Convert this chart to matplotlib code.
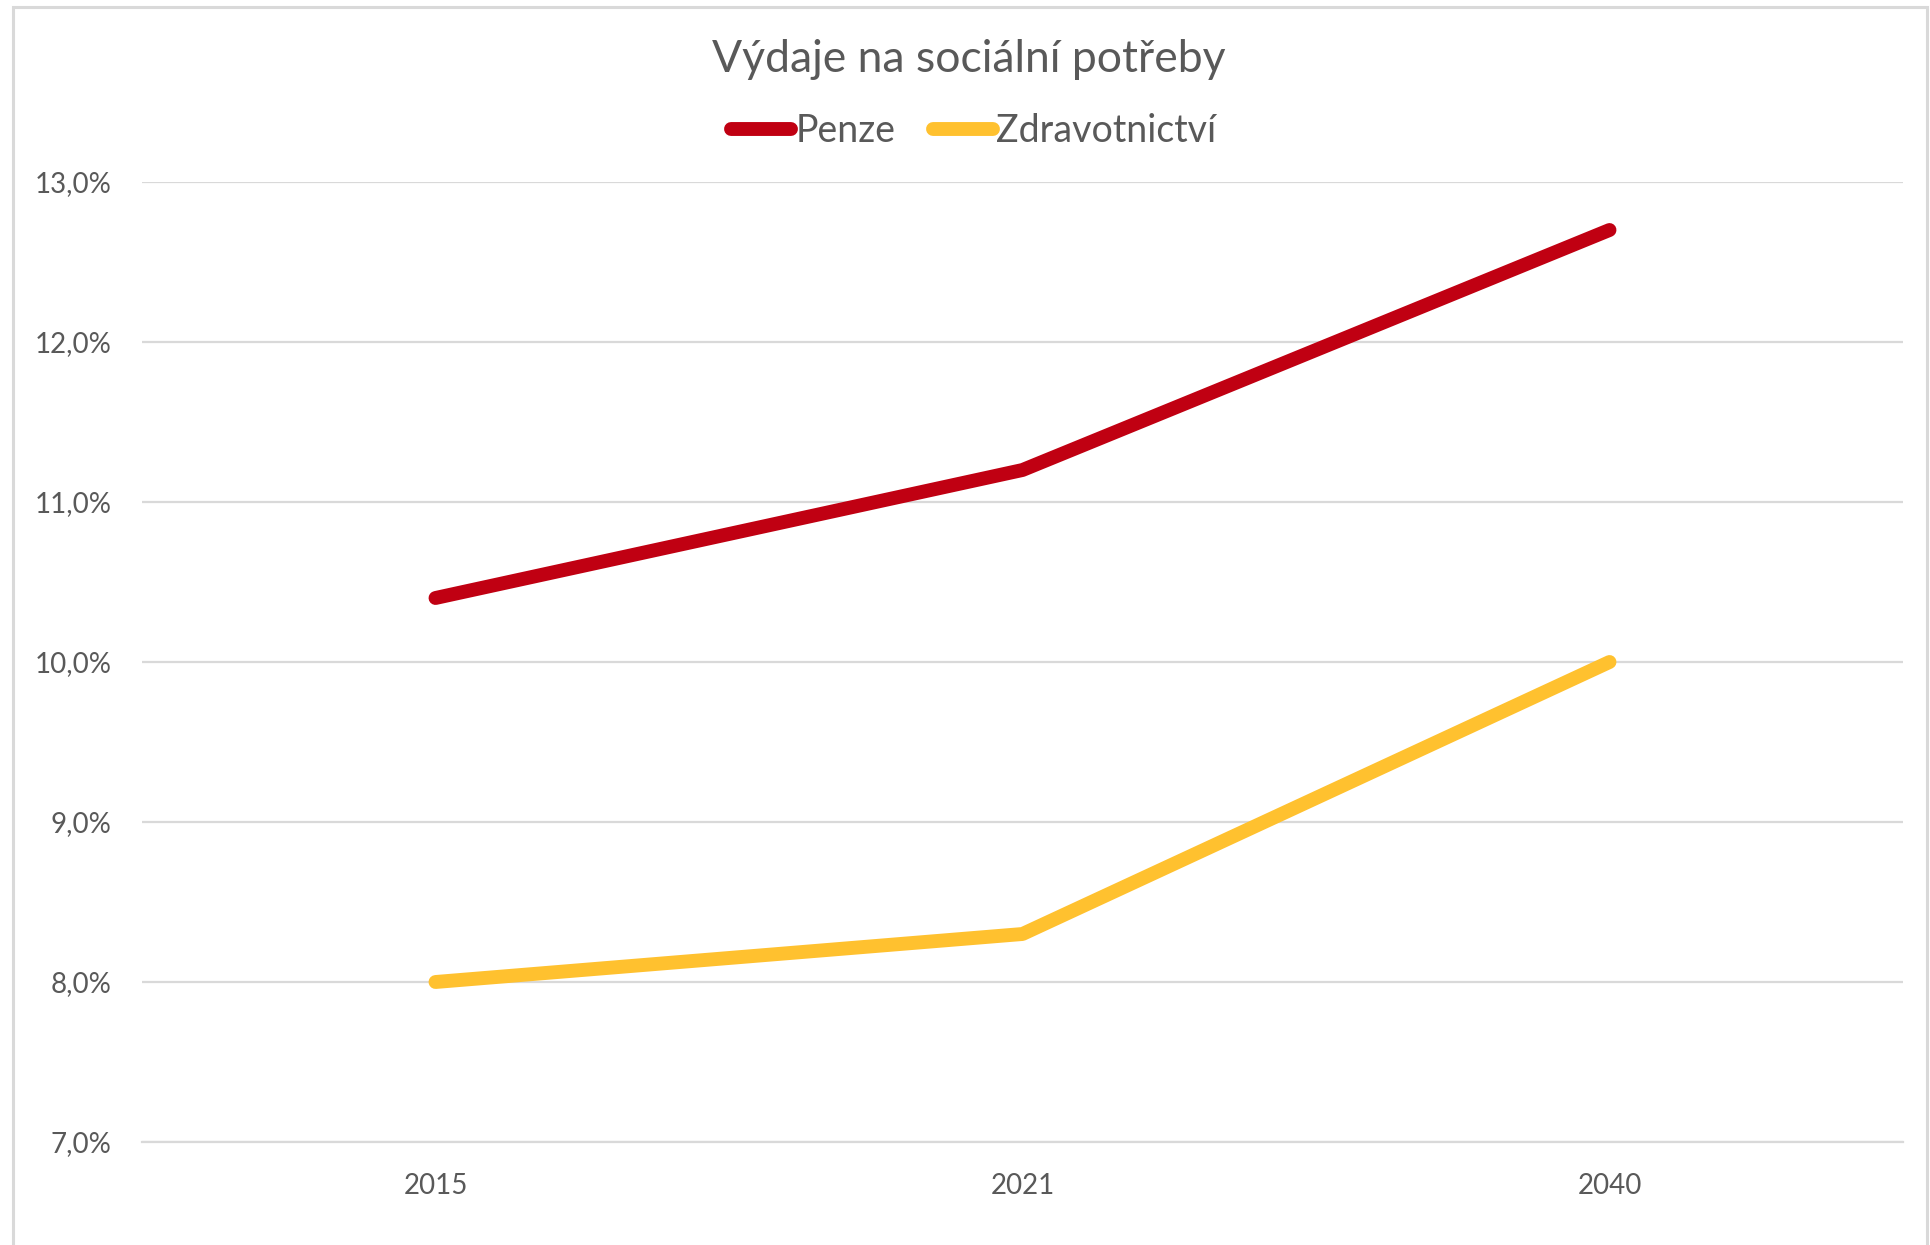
import matplotlib
matplotlib.use("Agg")
import matplotlib.pyplot as plt
from matplotlib.lines import Line2D
from matplotlib.patches import Rectangle

years = ["2015", "2021", "2040"]
penze = [10.4, 11.2, 12.7]
zdrav = [8.0, 8.3, 10.0]
yticks = [7, 8, 9, 10, 11, 12, 13]
ytick_labels = ["7,0%", "8,0%", "9,0%", "10,0%", "11,0%", "12,0%", "13,0%"]

FONT = ["Lato", "DejaVu Sans"]
plt.rcParams['font.family'] = FONT
TXT = "#595959"
GRID = "#d9d9d9"
RED = "#C00012"
YEL = "#FFC12F"

W, H = 1931, 1245
fig = plt.figure(figsize=(W / 100, H / 100), dpi=100)
fig.patch.set_facecolor("white")

# outer chart frame
fig.add_artist(Rectangle((13 / W, -0.01), (1927 - 13) / W, 1 - 7 / H + 0.01,
                         transform=fig.transFigure, fill=False,
                         edgecolor=GRID, linewidth=2.2))

ax = fig.add_axes([142 / W, 103 / H, (1903 - 142) / W, (1142 - 182) / H])
x = list(range(len(years)))
ax.plot(x, penze, color=RED, linewidth=10, solid_capstyle="round",
        solid_joinstyle="round", label="Penze", zorder=3)
ax.plot(x, zdrav, color=YEL, linewidth=10, solid_capstyle="round",
        solid_joinstyle="round", label="Zdravotnictví", zorder=3)

ax.set_xlim(-0.5, 2.5)
ax.set_ylim(7, 13)
ax.set_yticks(yticks)
ax.set_yticklabels(ytick_labels)
ax.set_xticks(x)
ax.set_xticklabels(years)
ax.grid(axis="y", color=GRID, linewidth=1.6)
ax.set_axisbelow(True)
for s in ["top", "right", "left"]:
    ax.spines[s].set_visible(False)
ax.spines["bottom"].set_color(GRID)
ax.spines["bottom"].set_linewidth(1.6)
ax.tick_params(axis="both", length=0, labelsize=20, colors=TXT)
ax.tick_params(axis="y", pad=22)
ax.tick_params(axis="x", pad=22)

fig.text(969 / W, 1 - 59 / H, "Výdaje na sociální potřeby", ha="center",
         va="center", fontsize=32, color=TXT)

handles = [Line2D([0], [0], color=RED, linewidth=10, solid_capstyle="round"),
           Line2D([0], [0], color=YEL, linewidth=10, solid_capstyle="round")]
leg = fig.legend(handles, ["Penze", "Zdravotnictví"], loc="center",
                 bbox_to_anchor=(974 / W, 1 - 131 / H), ncol=2, frameon=False,
                 fontsize=27, handlelength=1.6, handletextpad=0.1,
                 columnspacing=1.0, labelcolor=TXT)

fig.savefig("out.png", dpi=100, facecolor="white")
